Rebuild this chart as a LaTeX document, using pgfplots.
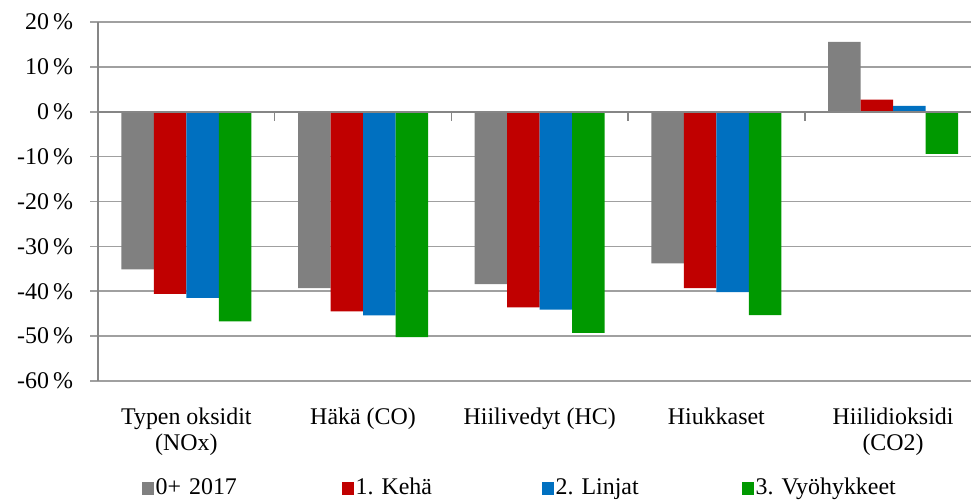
\documentclass[border=0pt]{standalone}
\usepackage{fontspec}
\setmainfont{Liberation Serif}
\usepackage{pgfplots}
\pgfplotsset{compat=1.18}

\definecolor{cgray}{HTML}{808080}
\definecolor{cred}{HTML}{C00000}
\definecolor{cblue}{HTML}{0070C0}
\definecolor{cgreen}{HTML}{009900}
\definecolor{gridgray}{HTML}{A0A0A0}
\definecolor{axisgray}{HTML}{868686}

\begin{document}
\begin{tikzpicture}
\begin{axis}[
    scale only axis,
    width=441.7bp, height=179.5bp,
    ybar=0pt, bar width=16.25bp,
    xmin=-0.5, xmax=4.5,
    ymin=-60, ymax=20,
    ytick={-60,-50,...,20},
    xtick={0,1,2,3,4},
    xticklabels={{Typen oksidit\\(NOx)}, {Häkä (CO)}, {Hiilivedyt (HC)}, {Hiukkaset}, {Hiilidioksidi\\(CO2)}},
    xticklabel style={align=center, anchor=north, yshift=-6bp, font=\fontsize{12}{13}\selectfont},
    yticklabel style={font=\fontsize{12}{13}\selectfont, anchor=east, xshift=-5bp},
    /pgf/number format/assume math mode=true,
    yticklabel={\pgfmathprintnumber{\tick}\,\%},
    axis x line*=bottom, axis y line*=left,
    x axis line style={-, gridgray, line width=0.8bp},
    y axis line style={-, axisgray, line width=1bp},
    tick align=outside,
    major tick length=4bp,
    ytick style={gridgray, line width=0.8bp},
    xtick style={draw=none},
    ymajorgrids,
    grid style={gridgray, line width=0.8bp},
    legend columns=4,
    legend style={at={(0.5,0)}, anchor=north, yshift=-45.5bp, draw=none, fill=none,
        font=\fontsize{12}{13}\selectfont\frenchspacing,
        nodes={text width=90bp, align=left, inner sep=1bp},
        /tikz/every even column/.append style={column sep=2bp}},
    legend image code/.code={\fill[#1] (0bp,-3.2bp) rectangle (6bp,3.2bp);},
    legend cell align=left,
    clip=false,
]
\addplot[fill=cgray, draw=none] coordinates {(0,-35.1) (1,-39.3) (2,-38.4) (3,-33.8) (4,15.6)};
\addplot[fill=cred, draw=none] coordinates {(0,-40.6) (1,-44.5) (2,-43.6) (3,-39.3) (4,2.7)};
\addplot[fill=cblue, draw=none] coordinates {(0,-41.5) (1,-45.4) (2,-44.1) (3,-40.2) (4,1.3)};
\addplot[fill=cgreen, draw=none] coordinates {(0,-46.7) (1,-50.2) (2,-49.3) (3,-45.3) (4,-9.4)};
\legend{0+ 2017, 1. Kehä, 2. Linjat, 3. Vyöhykkeet}
% category axis at zero, with ticks between the groups
\draw[axisgray, line width=1.2bp] (axis cs:-0.5,0) -- (axis cs:4.5,0);
\draw[axisgray, line width=0.8bp] (axis cs:0.5,0) -- (axis cs:0.5,-2);
\draw[axisgray, line width=0.8bp] (axis cs:1.5,0) -- (axis cs:1.5,-2);
\draw[axisgray, line width=0.8bp] (axis cs:2.5,0) -- (axis cs:2.5,-2);
\draw[axisgray, line width=0.8bp] (axis cs:3.5,0) -- (axis cs:3.5,-2);
\end{axis}
\pgfresetboundingbox
\path[use as bounding box] (current axis.south west) ++(-49bp,-59.5bp) rectangle ++(485.5bp,250bp);
\end{tikzpicture}
\end{document}
